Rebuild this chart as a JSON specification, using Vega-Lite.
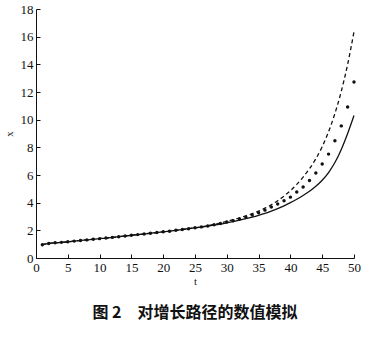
{
  "$schema": "https://vega.github.io/schema/vega-lite/v6.json",
  "width": 318,
  "height": 249,
  "autosize": {"type": "none"},
  "padding": {"left": 36, "top": 9, "right": 34, "bottom": 84},
  "background": "white",
  "title": {
    "text": "图 2\u3000对增长路径的数值模拟",
    "orient": "bottom",
    "anchor": "middle",
    "font": "Noto Sans CJK SC",
    "fontSize": 16,
    "fontWeight": "bold",
    "color": "#111",
    "offset": 19
  },
  "config": {
    "view": {"stroke": null},
    "axis": {
      "labelFont": "'Times New Roman', 'Liberation Serif', serif",
      "titleFont": "'Times New Roman', 'Liberation Serif', serif",
      "labelFontSize": 13,
      "titleFontSize": 11,
      "titleFontWeight": "normal",
      "labelColor": "#111",
      "titleColor": "#222",
      "domainColor": "#111",
      "tickColor": "#111",
      "grid": false,
      "tickSize": -4,
      "labelPadding": 7,
      "labelOverlap": false,
      "labelFlush": false
    }
  },
  "data": {
    "values": [
      {"t": 1, "s": 0.96, "d": 0.96, "p": 0.96},
      {"t": 2, "s": 1.05, "d": 1.05, "p": 1.05},
      {"t": 3, "s": 1.1, "d": 1.1, "p": 1.1},
      {"t": 4, "s": 1.13, "d": 1.13, "p": 1.13},
      {"t": 5, "s": 1.17, "d": 1.17, "p": 1.17},
      {"t": 6, "s": 1.22, "d": 1.22, "p": 1.22},
      {"t": 7, "s": 1.27, "d": 1.27, "p": 1.27},
      {"t": 8, "s": 1.31, "d": 1.31, "p": 1.31},
      {"t": 9, "s": 1.36, "d": 1.36, "p": 1.36},
      {"t": 10, "s": 1.4, "d": 1.4, "p": 1.4},
      {"t": 11, "s": 1.44, "d": 1.44, "p": 1.44},
      {"t": 12, "s": 1.49, "d": 1.49, "p": 1.49},
      {"t": 13, "s": 1.54, "d": 1.54, "p": 1.54},
      {"t": 14, "s": 1.59, "d": 1.59, "p": 1.59},
      {"t": 15, "s": 1.64, "d": 1.64, "p": 1.64},
      {"t": 16, "s": 1.69, "d": 1.69, "p": 1.69},
      {"t": 17, "s": 1.74, "d": 1.74, "p": 1.74},
      {"t": 18, "s": 1.79, "d": 1.79, "p": 1.79},
      {"t": 19, "s": 1.84, "d": 1.84, "p": 1.84},
      {"t": 20, "s": 1.89, "d": 1.89, "p": 1.89},
      {"t": 21, "s": 1.94, "d": 1.94, "p": 1.94},
      {"t": 22, "s": 2.0, "d": 2.0, "p": 2.0},
      {"t": 23, "s": 2.06, "d": 2.06, "p": 2.06},
      {"t": 24, "s": 2.12, "d": 2.12, "p": 2.12},
      {"t": 25, "s": 2.18, "d": 2.18, "p": 2.18},
      {"t": 26, "s": 2.24, "d": 2.25, "p": 2.25},
      {"t": 27, "s": 2.3, "d": 2.33, "p": 2.32},
      {"t": 28, "s": 2.37, "d": 2.42, "p": 2.4},
      {"t": 29, "s": 2.45, "d": 2.53, "p": 2.49},
      {"t": 30, "s": 2.54, "d": 2.65, "p": 2.6},
      {"t": 31, "s": 2.63, "d": 2.77, "p": 2.7},
      {"t": 32, "s": 2.73, "d": 2.9, "p": 2.82},
      {"t": 33, "s": 2.84, "d": 3.05, "p": 2.95},
      {"t": 34, "s": 2.96, "d": 3.21, "p": 3.1},
      {"t": 35, "s": 3.09, "d": 3.39, "p": 3.27},
      {"t": 36, "s": 3.23, "d": 3.6, "p": 3.46},
      {"t": 37, "s": 3.39, "d": 3.85, "p": 3.68},
      {"t": 38, "s": 3.57, "d": 4.14, "p": 3.9},
      {"t": 39, "s": 3.77, "d": 4.48, "p": 4.14},
      {"t": 40, "s": 4.0, "d": 4.87, "p": 4.4},
      {"t": 41, "s": 4.25, "d": 5.32, "p": 4.77},
      {"t": 42, "s": 4.52, "d": 5.85, "p": 5.13},
      {"t": 43, "s": 4.82, "d": 6.45, "p": 5.6},
      {"t": 44, "s": 5.18, "d": 7.17, "p": 6.14},
      {"t": 45, "s": 5.62, "d": 8.05, "p": 6.79},
      {"t": 46, "s": 6.18, "d": 9.13, "p": 7.51},
      {"t": 47, "s": 6.9, "d": 10.45, "p": 8.47},
      {"t": 48, "s": 7.85, "d": 12.05, "p": 9.55},
      {"t": 49, "s": 9.0, "d": 14.0, "p": 10.92},
      {"t": 50, "s": 10.3, "d": 16.36, "p": 12.73}
    ]
  },
  "encoding": {
    "x": {
      "field": "t",
      "type": "quantitative",
      "scale": {"domain": [0, 50], "nice": false},
      "axis": {"values": [0, 5, 10, 15, 20, 25, 30, 35, 40, 45, 50], "title": "t", "titlePadding": 1, "labelOverlap": false}
    }
  },
  "layer": [
    {
      "mark": {"type": "line", "color": "#111", "strokeWidth": 1.3, "interpolate": "monotone"},
      "encoding": {
        "y": {
          "field": "s",
          "type": "quantitative",
          "scale": {"domain": [0, 18], "nice": false},
          "axis": {"values": [0, 2, 4, 6, 8, 10, 12, 14, 16, 18], "tickCount": 10, "title": "x", "titlePadding": 6, "labelOverlap": false, "labelBound": false}
        }
      }
    },
    {
      "mark": {"type": "line", "color": "#111", "strokeWidth": 1.3, "strokeDash": [4, 3], "interpolate": "monotone"},
      "encoding": {"y": {"field": "d", "type": "quantitative", "axis": {"values": [0, 2, 4, 6, 8, 10, 12, 14, 16, 18], "tickCount": 10, "title": "x", "titlePadding": 6, "labelOverlap": false, "labelBound": false}}}
    },
    {
      "mark": {"type": "circle", "color": "#111", "size": 12, "opacity": 1},
      "encoding": {"y": {"field": "p", "type": "quantitative", "axis": {"values": [0, 2, 4, 6, 8, 10, 12, 14, 16, 18], "tickCount": 10, "title": "x", "titlePadding": 6, "labelOverlap": false, "labelBound": false}}}
    }
  ]
}
